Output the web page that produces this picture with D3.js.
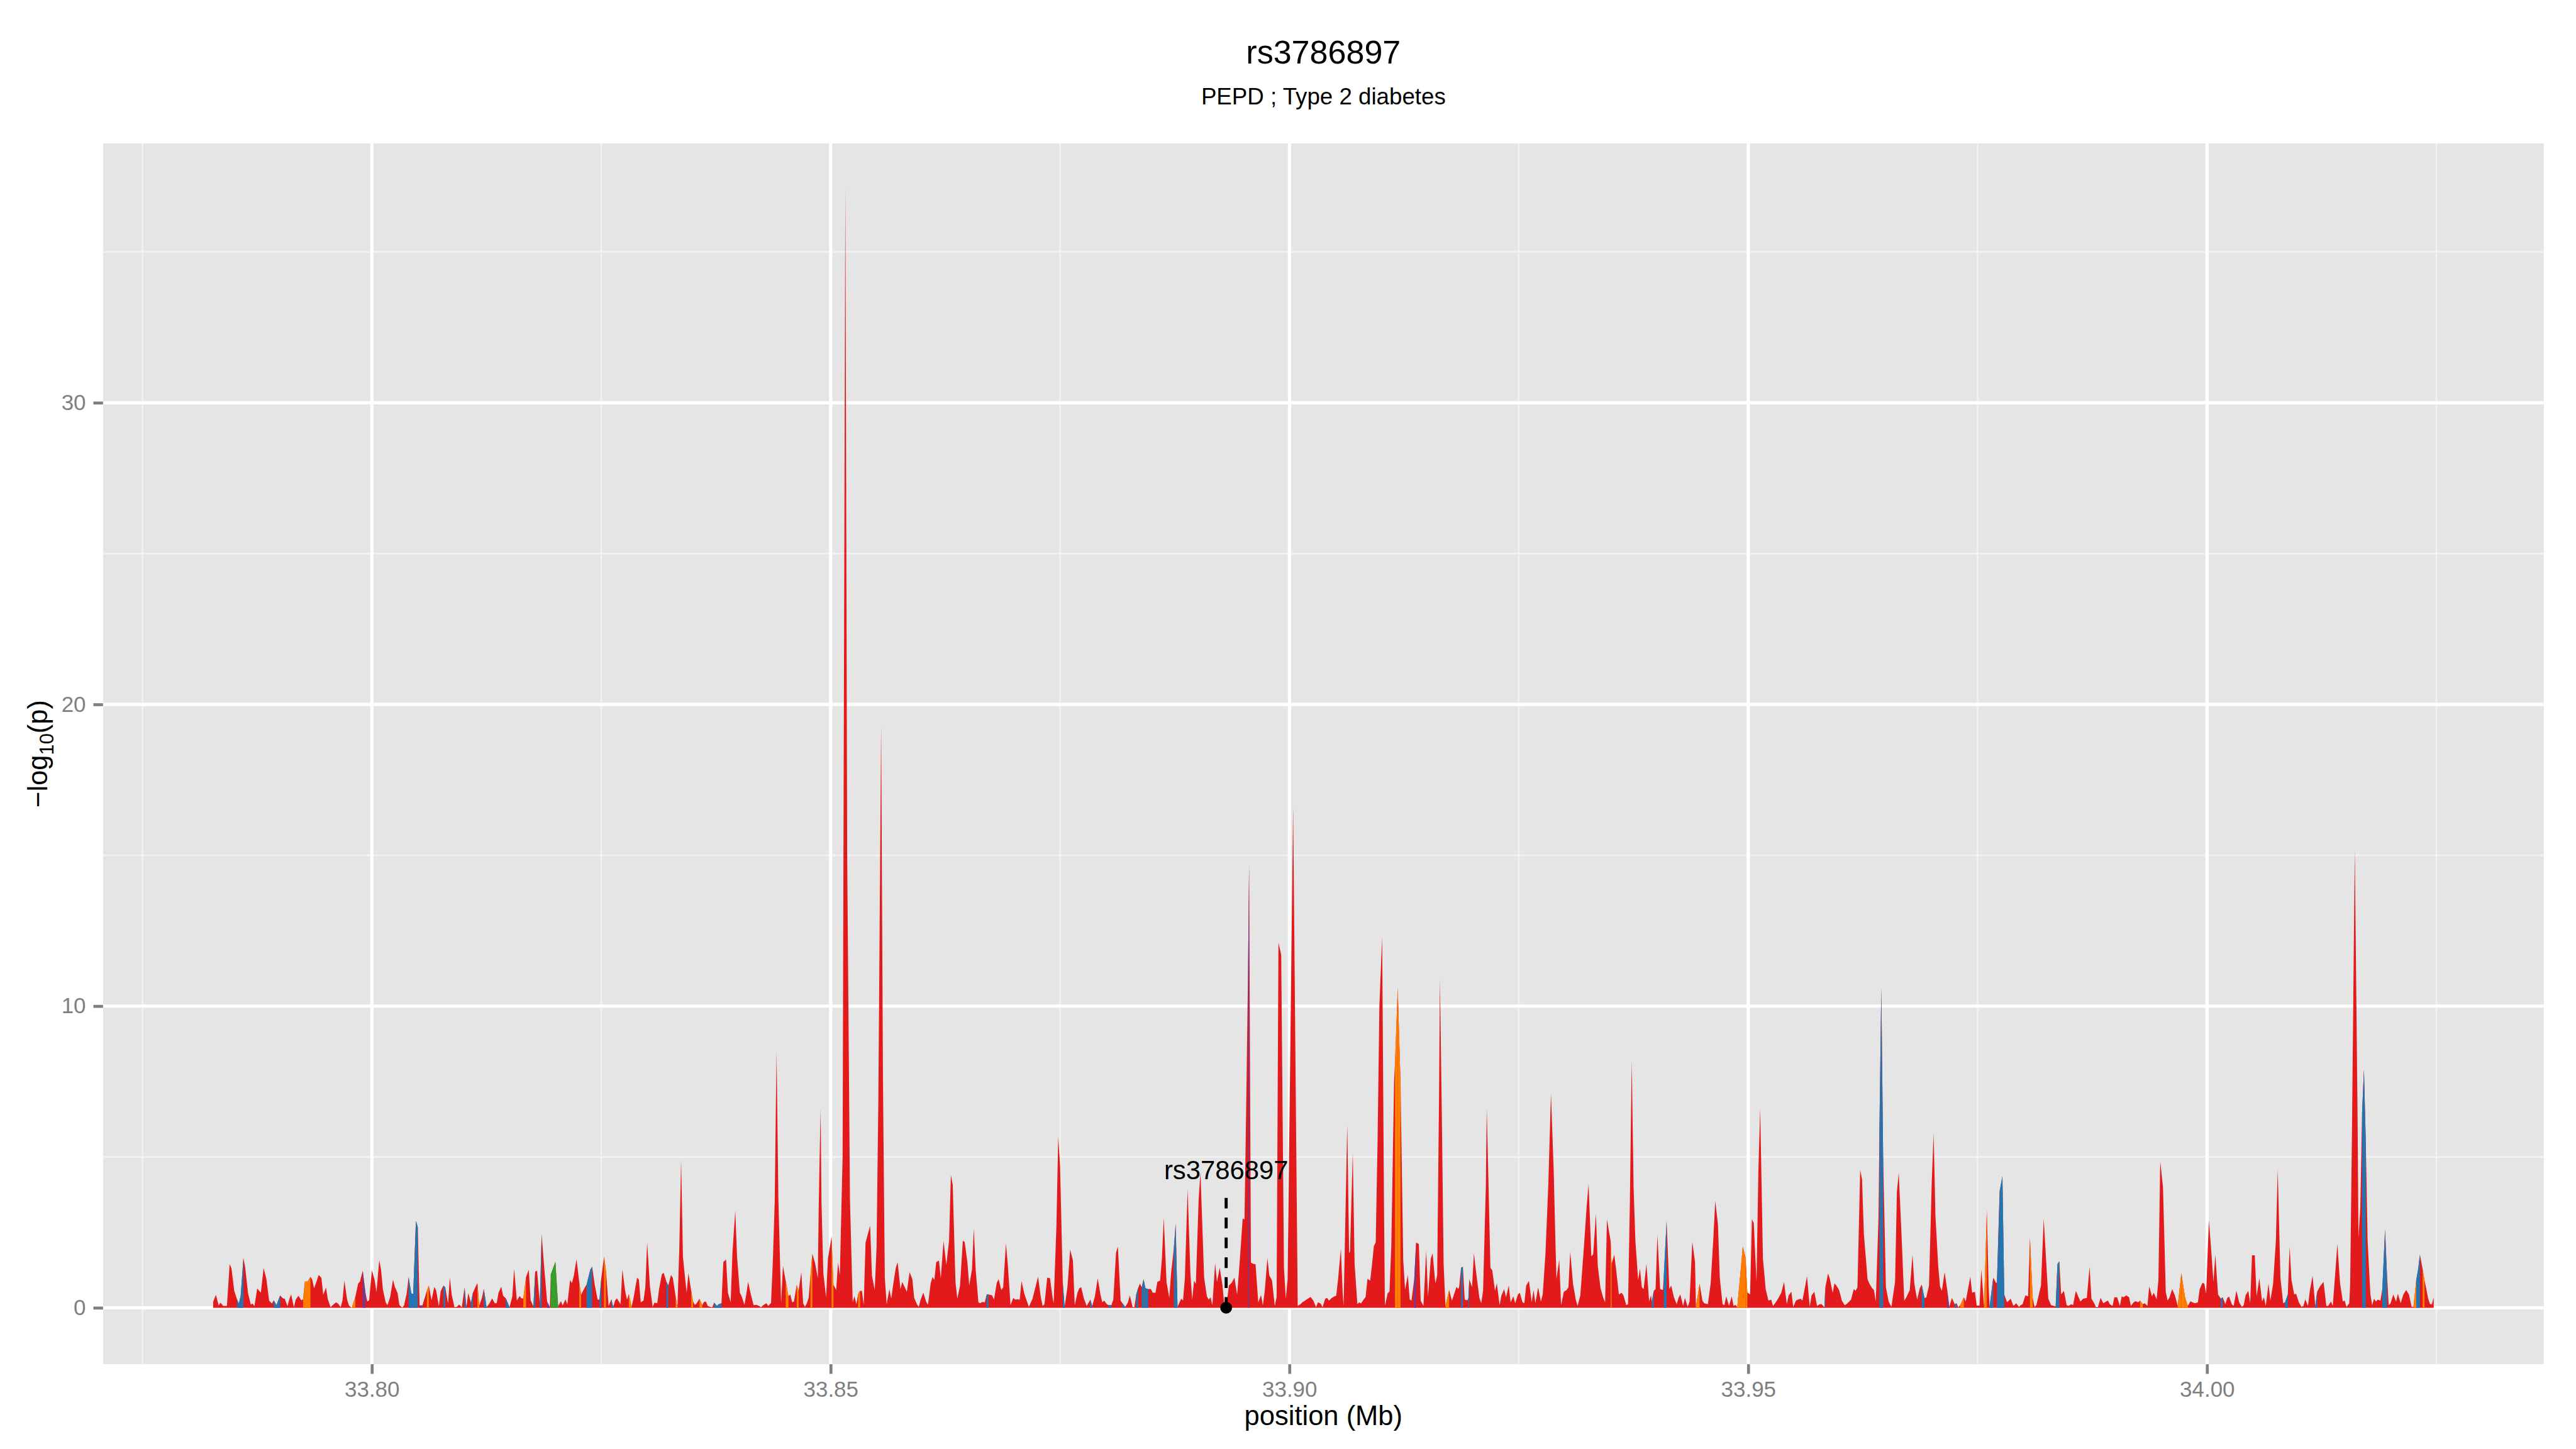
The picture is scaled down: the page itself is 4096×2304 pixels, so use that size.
<!DOCTYPE html>
<html>
<head>
<meta charset="utf-8">
<script src="https://cdn.jsdelivr.net/npm/d3@7"></script>
<style>
  body { margin: 0; background: #fff; }
  svg { display: block; }
</style>
</head>
<body>
<svg id="locus-plot" width="4096" height="2304" viewBox="0 0 4800 2700"></svg>
<script>
const plotTitle = "rs3786897";
const plotSubtitle = "PEPD ; Type 2 diabetes";
const xLabel = "position (Mb)";
const xTicks = [33.80, 33.85, 33.90, 33.95, 34.00];
const xMinor = [33.775, 33.825, 33.875, 33.925, 33.975, 34.025];
const yTicks = [0, 10, 20, 30];
const yMinor = [5, 15, 25, 35];

// lead SNP annotation
const leadSnp = "rs3786897";
const leadPos = 33.8931;
const leadStemTop = 3.64;
const leadLabelY = 4.26;

// SNP positions (Mb) and -log10(p), read left to right
const posA = [
  33.7827,33.7830,33.7833,33.7835,33.7838,33.7842,33.7845,33.7847,33.7850,33.7853,
  33.7855,33.7857,33.7860,33.7862,33.7865,33.7868,33.7870,33.7872,33.7875,33.7879,
  33.7882,33.7885,33.7888,33.7891,33.7893,33.7896,33.7900,33.7903,33.7905,33.7908,
  33.7910,33.7912,33.7915,33.7917,33.7920,33.7923,33.7925,33.7927,33.7930,33.7933,
  33.7935,33.7937,33.7940,33.7942,33.7945,33.7947,33.7950,33.7952,33.7955,33.7958,
  33.7961,33.7963,33.7966,33.7968,33.7970,33.7973,33.7975,33.7978,33.7982,33.7985,
  33.7987,33.7990,33.7993,33.7995,33.7997,33.8000,33.8003,33.8005,33.8008,33.8010,
  33.8012,33.8015,33.8017,33.8020,33.8023,33.8025,33.8028,33.8030,33.8033,33.8035,
  33.8038,33.8040,33.8043,33.8045,33.8048,33.8050,33.8052,33.8055,33.8058,33.8060,
  33.8062,33.8065,33.8068,33.8070,33.8073,33.8075,33.8078,33.8080,33.8083,33.8085,
  33.8087,33.8090,33.8093,33.8095,33.8098,33.8101,33.8103,33.8105,33.8108,33.8110,
  33.8113,33.8115,33.8117,33.8120,33.8122,33.8125,33.8128,33.8131,33.8134,33.8136,
  33.8138,33.8141,33.8143,33.8146,33.8150,33.8153,33.8155,33.8158,33.8161,33.8163,
  33.8165,33.8168,33.8171,33.8173,33.8176,33.8178,33.8180,33.8183,33.8185,33.8188,
  33.8191,33.8194,33.8195,33.8200,33.8203,33.8206,33.8208,33.8211,33.8213,33.8216,
  33.8218,33.8220,33.8223,33.8226,33.8228,33.8232,33.8234,33.8238
];
const logpA = [
  0.20,0.43,0.08,0.17,0.06,0.06,1.45,1.30,0.56,0.28,
  0.14,0.40,1.65,1.32,0.49,0.11,0.14,0.05,0.64,0.50,
  1.32,0.96,0.24,0.14,0.25,0.09,0.41,0.31,0.30,0.05,
  0.28,0.44,0.02,0.27,0.40,0.25,0.28,0.87,0.87,1.03,
  0.93,0.64,0.90,1.09,0.99,0.43,0.67,0.28,0.02,0.11,
  0.18,0.14,0.02,0.25,0.90,0.27,0.08,0.00,0.37,0.80,
  0.87,1.23,0.49,0.21,0.25,1.25,0.92,0.52,1.58,1.26,
  0.61,0.18,0.09,0.37,0.93,0.70,0.49,0.09,0.01,0.07,
  0.49,1.02,0.48,0.46,2.88,2.68,0.08,0.08,0.37,0.58,
  0.74,0.25,0.69,0.58,0.05,0.55,0.74,0.67,0.14,1.00,
  0.43,0.02,0.04,0.11,0.02,0.67,0.02,0.49,0.17,0.49,
  0.70,0.82,0.08,0.34,0.63,0.02,0.14,0.31,0.15,0.15,
  0.50,0.70,0.40,0.31,0.02,0.37,1.29,0.24,0.39,0.31,
  0.31,1.02,1.26,0.25,0.05,1.20,1.23,0.14,2.45,1.26,
  0.20,0.02,1.11,1.52,0.05,0.22,0.08,0.28,0.11,0.92,
  0.82,1.05,1.61,0.85,0.43,0.67,0.77,1.26
];

const posB = [
  33.8240,33.8243,33.8246,33.8248,33.8250,33.8253,33.8255,33.8258,33.8261,33.8263,
  33.8265,33.8267,33.8271,33.8273,33.8276,33.8278,33.8280,33.8283,33.8285,33.8289,
  33.8291,33.8293,33.8296,33.8298,33.8300,33.8303,33.8306,33.8308,33.8311,33.8313,
  33.8316,33.8318,33.8321,33.8323,33.8326,33.8328,33.8331,33.8333,33.8335,33.8337,
  33.8339,33.8343,33.8345,33.8348,33.8350,33.8352,33.8354,33.8357,33.8360,33.8362,
  33.8364,33.8366,33.8369,33.8371,33.8373,33.8376,33.8378,33.8381,33.8383,33.8386,
  33.8388,33.8391,33.8393,33.8396,33.8398,33.8401,33.8403,33.8406,33.8408,33.8410,
  33.8413,33.8416,33.8419,33.8422,33.8424,33.8427,33.8430,33.8432,33.8435,33.8437,
  33.8439,33.8441,33.8443,33.8446,33.8448,33.8451,33.8454,33.8456,33.8458,33.8460,
  33.8463,33.8465,33.8468,33.8470,33.8472,33.8474,33.8476,33.8478,33.8480,33.8483,
  33.8486,33.8487,33.8489,33.8490,33.8492,33.8495,33.8497,33.8501,33.8503,33.8506,
  33.8508,33.8510,33.8513,33.8516,33.8518,33.8521,33.8524,33.8526,33.8528,33.8530,
  33.8532,33.8534,33.8536,33.8538,33.8543,33.8545,33.8548,33.8550,33.8552,33.8555,
  33.8557,33.8559,33.8561,33.8564,33.8566,33.8568,33.8571,33.8573,33.8576,33.8578,
  33.8583,33.8586,33.8589,33.8591,33.8594,33.8596,33.8598,33.8601,33.8604,33.8606,
  33.8609,33.8611,33.8613,33.8615,33.8618,33.8620,33.8623,33.8626,33.8629,33.8631,
  33.8633,33.8636,33.8638,33.8641,33.8644,33.8646
];
const logpB = [
  1.36,0.74,0.27,0.27,0.98,1.70,1.27,0.06,0.28,0.03,
  0.24,0.31,0.12,1.27,0.56,0.27,0.46,0.03,0.30,1.00,
  0.93,0.18,0.24,0.68,2.17,0.71,0.03,0.17,0.15,0.62,
  1.11,1.16,0.86,0.74,1.09,0.99,0.38,0.02,1.92,4.90,
  1.68,0.50,1.15,0.56,0.21,0.10,0.15,0.30,0.09,0.20,
  0.21,0.06,0.03,0.02,0.17,0.06,0.12,0.15,1.52,1.60,
  0.50,0.18,1.86,3.21,1.68,0.50,0.38,0.10,0.44,0.86,
  0.44,0.09,0.10,0.06,0.02,0.10,0.15,0.06,0.16,1.57,
  3.50,8.50,3.60,0.15,1.39,0.89,0.38,0.44,0.18,0.21,
  0.76,0.56,1.18,0.15,0.03,0.15,0.33,1.09,1.79,1.48,
  0.98,3.40,6.60,3.50,1.15,0.35,1.63,2.36,0.77,0.59,
  1.50,1.09,5.00,37.2,15.0,3.60,0.18,0.38,0.12,0.47,
  0.56,0.56,0.10,2.16,2.72,1.06,0.59,2.00,7.00,19.3,
  7.50,1.00,0.12,0.62,0.30,0.74,1.33,1.51,0.62,0.86,
  0.53,1.18,0.95,0.33,0.12,0.03,0.27,0.50,0.21,0.10,
  0.81,1.02,0.92,1.51,1.57,0.98,2.22,1.42,2.22,4.40,
  4.08,0.86,0.30,0.74,2.22,2.19
];

const posC = [
  33.8649,33.8651,33.8654,33.8656,33.8658,33.8661,33.8663,33.8665,33.8668,33.8670,
  33.8672,33.8676,33.8678,33.8681,33.8683,33.8686,33.8688,33.8691,33.8693,33.8696,
  33.8699,33.8701,33.8703,33.8706,33.8708,33.8711,33.8716,33.8720,33.8726,33.8729,
  33.8731,33.8733,33.8736,33.8739,33.8742,33.8743,33.8746,33.8748,33.8750,33.8753,
  33.8755,33.8758,33.8761,33.8764,33.8766,33.8769,33.8771,33.8773,33.8776,33.8779,
  33.8783,33.8785,33.8788,33.8791,33.8794,33.8796,33.8798,33.8801,33.8803,33.8806,
  33.8808,33.8811,33.8813,33.8816,33.8818,33.8821,33.8824,33.8826,33.8829,33.8831,
  33.8833,33.8835,33.8837,33.8839,33.8841,33.8843,33.8846,33.8849,33.8851,33.8854,
  33.8856,33.8859,33.8861,33.8863,33.8866,33.8869,33.8871,33.8874,33.8876,33.8878,
  33.8882,33.8884,33.8886,33.8889,33.8892,33.8894,33.8896,33.8898,33.8901,33.8903,
  33.8907,33.8910,33.8912,33.8914,33.8916,33.8919,33.8921,33.8924,33.8927,33.8929,
  33.8931,33.8934,33.8937,33.8940,33.8943,33.8946,33.8949,33.8951,33.8953,33.8955,
  33.8956
];
const logpC = [
  1.51,0.74,1.27,2.63,1.27,0.18,0.15,0.19,0.18,0.44,
  0.44,0.41,0.27,0.83,0.95,0.59,0.68,2.13,1.45,0.09,
  0.33,0.27,0.28,0.27,0.89,0.47,0.03,0.30,1.03,0.35,
  0.06,0.12,1.00,0.98,0.30,0.15,2.69,5.67,4.70,0.80,
  0.03,0.68,1.93,1.57,0.09,0.50,0.65,0.68,0.30,0.06,
  0.27,0.06,0.38,0.98,0.44,0.18,0.24,0.12,0.09,0.09,
  0.27,1.83,2.03,0.24,0.15,0.03,0.18,0.41,0.03,0.02,
  0.44,0.65,0.80,0.68,0.95,0.65,0.62,0.62,0.50,0.50,
  0.86,0.90,1.63,2.98,0.86,0.33,1.15,1.98,2.78,0.03,
  0.30,0.24,0.98,3.94,1.15,0.27,0.89,0.80,3.58,4.49,
  1.00,0.38,0.27,0.35,0.09,1.48,0.86,1.33,0.74,0.09,
  0.00,0.74,0.83,1.00,0.44,1.63,2.96,2.93,7.00,11.5,
  14.7
];

const posD = [
  33.8958,33.8961,33.8963,33.8966,33.8969,33.8971,33.8973,33.8976,33.8978,33.8981,
  33.8984,33.8986,33.8988,33.8991,33.8994,33.8996,33.8998,33.9004,33.9009,33.9012,
  33.9014,33.9017,33.9020,33.9023,33.9026,33.9029,33.9031,33.9034,33.9036,33.9039,
  33.9041,33.9043,33.9046,33.9049,33.9051,33.9053,33.9056,33.9058,33.9059,33.9063,
  33.9065,33.9066,33.9069,33.9071,33.9074,33.9076,33.9078,33.9080,33.9083,33.9085,
  33.9088,33.9090,33.9092,33.9094,33.9096,33.9098,33.9101,33.9103,33.9104,33.9107,
  33.9109,33.9111,33.9114,33.9115,33.9118,33.9121,33.9124,33.9126,33.9129,33.9131,
  33.9133,33.9136,33.9138,33.9141,33.9143
];
const logpD = [
  1.50,1.45,1.45,0.18,0.42,0.09,0.54,1.65,1.08,0.90,
  0.06,0.36,12.1,11.7,1.33,0.30,0.96,16.6,0.06,0.12,
  0.18,0.24,0.30,0.36,0.24,0.02,0.18,0.14,0.02,0.30,
  0.33,0.24,0.32,0.38,0.40,0.96,1.96,0.48,0.06,6.07,
  1.81,1.87,5.14,1.45,0.12,0.18,0.14,0.24,0.36,0.96,
  0.90,1.45,2.05,2.17,5.50,10.0,12.3,3.50,0.06,0.48,
  0.54,2.05,7.50,8.10,10.6,7.50,1.57,0.60,1.09,0.28,
  0.24,0.96,2.17,2.11,0.24
];

const posE = [
  33.9146,33.9149,33.9151,33.9154,33.9156,33.9159,33.9161,33.9163,33.9164,33.9166,
  33.9168,33.9170,33.9174,33.9177,33.9179,33.9182,33.9184,33.9185,33.9187,33.9189,
  33.9191,33.9194,33.9195,33.9196,33.9199,33.9201,33.9204,33.9207,33.9209,33.9211,
  33.9214,33.9215,33.9217,33.9219,33.9221,33.9224,33.9226,33.9229,33.9231,33.9234,
  33.9236,33.9239,33.9241,33.9244,33.9246,33.9249,33.9251,33.9254,33.9256,33.9258,
  33.9261,33.9264,33.9266,33.9268,33.9271,33.9274,33.9276,33.9279,33.9282,33.9285,
  33.9288,33.9290,33.9291,33.9294,33.9296,33.9299,33.9302,33.9304,33.9306,33.9309,
  33.9312,33.9314,33.9317,33.9321,33.9324,33.9326,33.9329,33.9331,33.9334,33.9336,
  33.9339,33.9342,33.9344,33.9346,33.9350,33.9351,33.9354,33.9356,33.9359,33.9362,
  33.9364,33.9367,33.9369,33.9371,33.9373,33.9375,33.9377,33.9380,33.9382,33.9384,
  33.9386,33.9389,33.9392,33.9394,33.9395,33.9397,33.9399,33.9401,33.9404,33.9407,
  33.9408,33.9411,33.9414,33.9416,33.9419,33.9422,33.9424,33.9426,33.9429,33.9431,
  33.9434,33.9436,33.9439,33.9442,33.9443,33.9447,33.9450,33.9452,33.9456,33.9459,
  33.9462,33.9464,33.9467
];
const logpE = [
  0.06,1.89,0.38,1.63,1.81,0.80,1.09,7.00,10.9,6.50,
  1.45,0.06,0.59,0.24,0.41,0.69,0.62,0.71,1.33,1.36,
  0.27,0.25,0.33,0.95,0.68,1.81,1.03,0.33,0.15,0.56,
  4.00,6.60,4.00,1.33,1.24,0.56,0.81,0.09,0.41,0.62,
  0.35,0.74,0.18,0.38,0.15,0.44,0.50,0.18,0.15,0.74,
  0.89,0.18,0.59,0.15,0.68,0.21,0.44,1.80,4.00,7.10,
  4.50,2.00,0.95,1.60,0.09,0.53,0.59,0.68,1.86,0.80,
  0.27,0.06,0.41,2.07,3.40,4.10,1.71,1.77,3.12,1.39,
  0.65,0.33,0.18,2.93,2.22,1.45,1.76,1.27,0.44,0.50,
  0.41,0.09,0.12,3.50,8.20,4.00,2.22,0.92,1.30,0.68,
  0.62,1.45,0.21,0.41,0.21,0.56,0.62,2.42,0.62,0.59,
  1.09,2.87,0.62,0.74,0.35,0.12,0.33,0.44,0.06,0.33,
  0.03,0.21,2.19,1.51,0.03,0.80,0.24,0.15,0.12,0.80,
  2.33,3.55,2.75
];

const posF = [
  33.9469,33.9472,33.9474,33.9476,33.9479,33.9482,33.9484,33.9486,33.9488,33.9492,
  33.9494,33.9497,33.9499,33.9502,33.9504,33.9506,33.9509,33.9511,33.9513,33.9516,
  33.9519,33.9522,33.9525,33.9527,33.9530,33.9533,33.9536,33.9539,33.9542,33.9544,
  33.9547,33.9549,33.9552,33.9554,33.9557,33.9559,33.9562,33.9564,33.9567,33.9569,
  33.9572,33.9575,33.9578,33.9580,33.9583,33.9584,33.9587,33.9589,33.9592,33.9594,
  33.9596,33.9599,33.9602,33.9605,33.9607,33.9610,33.9612,33.9615,33.9617,33.9619,
  33.9622,33.9624,33.9626,33.9630,33.9632,33.9635,33.9637,33.9639,33.9642,33.9643,
  33.9645,33.9647,33.9650,33.9653,33.9656,33.9660,33.9662,33.9664,33.9667,33.9670,
  33.9672,33.9676,33.9679,33.9681,33.9684,33.9687,33.9689,33.9692,33.9694,33.9697,
  33.9700,33.9702,33.9704,33.9707,33.9709,33.9711,33.9714,33.9717,33.9719,33.9722,
  33.9725,33.9727,33.9729,33.9731,33.9735,33.9737,33.9740,33.9742,33.9744,33.9747,
  33.9749,33.9752,33.9754,33.9757,33.9760,33.9762,33.9763,33.9767,33.9770,33.9771,
  33.9774,33.9777,33.9779,33.9782,33.9784,33.9786,33.9789,33.9792,33.9795,33.9797,
  33.9799,33.9802,33.9805,33.9807,33.9810,33.9812,33.9814,33.9819,33.9822,33.9827,
  33.9830,33.9833,33.9835,33.9837,33.9839,33.9841,33.9844,33.9847,33.9849,33.9852,
  33.9854,33.9857,33.9860,33.9862,33.9865,33.9869,33.9872,33.9874,33.9877
];
const logpF = [
  0.98,0.12,0.09,0.38,0.06,0.38,0.06,0.10,0.02,1.33,
  2.03,1.68,0.51,0.44,2.94,2.81,0.86,4.50,6.60,1.63,
  0.62,0.24,0.27,0.06,0.18,0.33,0.50,0.86,0.12,0.41,
  0.53,0.03,0.24,0.27,0.30,0.24,0.71,1.05,0.03,0.41,
  0.53,0.06,0.12,0.12,0.02,0.68,1.14,0.95,0.50,0.81,
  0.74,0.59,0.24,0.09,0.12,0.21,0.27,0.62,0.56,0.68,
  4.56,4.26,2.45,0.95,0.80,0.65,0.59,0.21,3.04,6.00,
  10.6,5.00,0.68,0.21,0.03,0.86,3.84,4.47,2.45,0.24,
  0.33,0.59,1.76,0.80,0.27,0.65,0.77,0.33,0.34,0.74,
  4.20,5.79,3.04,1.39,0.71,0.56,1.18,0.56,0.03,0.33,
  0.12,0.15,0.02,0.09,0.35,0.21,0.71,1.03,0.50,0.53,
  0.07,0.07,1.27,0.06,3.22,0.68,0.03,1.00,0.83,0.83,
  3.87,4.36,0.44,0.18,0.24,0.30,0.06,0.15,0.03,0.09,
  0.12,0.41,0.38,2.32,0.33,0.03,0.09,0.74,2.96,0.30,
  0.09,0.06,0.04,1.45,1.54,0.44,0.56,0.09,0.06,0.12,
  0.09,0.56,0.35,0.21,0.30,0.33,1.36,0.30,0.15
];

const posG = [
  33.9879,33.9881,33.9884,33.9887,33.9890,33.9892,33.9894,33.9897,33.9899,33.9902,
  33.9905,33.9907,33.9909,33.9912,33.9915,33.9917,33.9920,33.9922,33.9925,33.9927,
  33.9930,33.9932,33.9935,33.9937,33.9940,33.9942,33.9945,33.9947,33.9949,33.9952,
  33.9955,33.9957,33.9959,33.9962,33.9965,33.9968,33.9972,33.9976,33.9979,33.9982,
  33.9984,33.9987,33.9990,33.9992,33.9995,33.9997,33.9999,34.0002,34.0004,34.0007,
  34.0009,34.0012,34.0015,34.0017,34.0020,34.0022,34.0024,34.0027,34.0029,34.0032,
  34.0035,34.0038,34.0040,34.0042,34.0045,34.0047,34.0049,34.0052,34.0054,34.0057,
  34.0060,34.0062,34.0064,34.0067,34.0069,34.0072,34.0075,34.0077,34.0080,34.0083,
  34.0085,34.0088,34.0090,34.0092,34.0095,34.0097,34.0100,34.0103,34.0105,34.0107,
  34.0110,34.0112,34.0115,34.0118,34.0120,34.0123,34.0127,34.0130,34.0132,34.0135,
  34.0137,34.0140,34.0142,34.0145,34.0148,34.0150,34.0152,34.0155,34.0156,34.0158,
  34.0161,34.0164,34.0165,34.0167,34.0169,34.0171,34.0173,34.0175,34.0178,34.0180,
  34.0182,34.0184,34.0186,34.0189,34.0191,34.0194,34.0196,34.0198,34.0200,34.0203,
  34.0206,34.0208,34.0211,34.0214,34.0217,34.0220,34.0223,34.0225,34.0228,34.0230,
  34.0232,34.0235,34.0237,34.0241,34.0243,34.0245,34.0247
];
const logpG = [
  0.02,0.02,0.33,0.15,0.21,0.24,0.12,0.06,0.35,0.35,
  0.06,0.38,0.35,0.41,0.35,0.06,0.18,0.22,0.18,0.24,
  0.12,0.15,0.06,0.71,0.38,0.50,0.28,0.92,4.85,3.99,
  0.53,0.24,0.34,0.62,0.41,0.06,1.15,0.35,0.06,0.22,
  0.18,0.15,0.18,0.62,0.83,0.80,0.47,2.90,2.13,0.86,
  1.76,0.44,0.30,0.35,0.12,0.33,0.37,0.12,0.06,0.57,
  0.18,0.03,0.09,0.41,0.56,0.15,1.74,1.74,0.38,0.98,
  0.21,0.35,0.06,0.80,0.24,0.80,2.22,4.58,0.98,0.15,
  0.18,0.44,2.03,0.92,0.44,0.47,0.18,0.03,0.06,0.28,
  0.06,0.56,1.06,0.06,0.53,0.71,0.86,0.06,0.06,0.21,
  0.06,1.27,2.11,0.80,0.21,0.24,0.03,0.15,0.80,6.00,
  15.2,6.50,2.33,3.30,6.50,7.90,5.50,2.20,0.44,0.09,
  0.30,0.21,0.27,0.24,0.62,2.60,1.15,0.09,0.15,0.44,
  0.21,0.47,0.15,0.44,0.59,0.44,0.03,0.04,0.92,1.27,
  1.76,1.27,0.92,0.30,0.12,0.12,0.35
];

// LD bins: the stretch starting at each listed SNP takes that colour (all others red)
const ldBlue = [
  33.7853,33.7855,33.7857,33.7893,33.7896,33.8040,33.8043,33.8045,33.8048,33.8078,
  33.8101,33.8108,33.8122,33.8146,33.8176,33.8183,33.8234,33.8238,33.8248,33.8261,
  33.8321,33.8373,33.8376,33.8378,33.8670,33.8753,33.8783,33.8803,33.8818,33.8833,
  33.8839,33.8841,33.8843,33.8874,33.8876,33.9187,33.9195,33.9395,33.9408,33.9583,
  33.9643,33.9645,33.9689,33.9725,33.9763,33.9771,33.9774,33.9777,33.9835,33.9837,
  33.9879,34.0015,34.0085,34.0118,34.0169,34.0171,34.0191,34.0194,34.0228,34.0230
];
const ldOrange = [
  33.7925,33.7927,33.7930,33.7978,33.8060,33.8115,33.8165,33.8226,33.8253,33.8280,
  33.8331,33.8348,33.8357,33.8451,33.8463,33.8478,33.8501,33.8530,33.9115,33.9118,
  33.9170,33.9350,33.9443,33.9488,33.9492,33.9494,33.9497,33.9731,33.9757,33.9807,
  33.9927,33.9968,33.9972,33.9976,34.0225,34.0235
];
const ldGreen = [33.8195, 33.8200];
const ldPurple = [33.7990, 33.8052, 33.8191, 33.8955, 33.9136, 33.9717];

const ldColours = { red: "#E31A1C", blue: "#1F78B4", orange: "#FF7F00", green: "#33A02C", purple: "#6A3D9A" };

const FONT = "'Liberation Sans', Arial, Helvetica, sans-serif";
const W = 4800, H = 2700;
const panel = { left: 192, right: 4740, top: 267, bottom: 2542 };

const snpPos = [].concat(posA, posB, posC, posD, posE, posF, posG);
const snpLogP = [].concat(logpA, logpB, logpC, logpD, logpE, logpF, logpG);

const ldOf = new Map();
ldBlue.forEach(p => ldOf.set(p.toFixed(4), "blue"));
ldOrange.forEach(p => ldOf.set(p.toFixed(4), "orange"));
ldGreen.forEach(p => ldOf.set(p.toFixed(4), "green"));
ldPurple.forEach(p => ldOf.set(p.toFixed(4), "purple"));

const n = Math.min(snpPos.length, snpLogP.length);
const snps = d3.range(n).map(i => ({
  pos: snpPos[i], logp: snpLogP[i], ld: ldOf.get(snpPos[i].toFixed(4)) || "red"
}));

const svg = d3.select("#locus-plot");
const x = d3.scaleLinear().domain([33.7707, 34.0367]).range([panel.left, panel.right]);
const y = d3.scaleLinear().domain([-1.87, 38.6]).range([panel.bottom, panel.top]);

svg.append("rect").attr("width", W).attr("height", H).attr("fill", "#fff");
svg.append("rect")
  .attr("x", panel.left).attr("y", panel.top)
  .attr("width", panel.right - panel.left).attr("height", panel.bottom - panel.top)
  .attr("fill", "#E5E5E5");

svg.append("clipPath").attr("id", "panel-clip")
  .append("rect")
  .attr("x", panel.left).attr("y", panel.top)
  .attr("width", panel.right - panel.left).attr("height", panel.bottom - panel.top);

// grid
const grid = svg.append("g");
grid.selectAll("line.xminor").data(xMinor).join("line")
  .attr("x1", d => x(d)).attr("x2", d => x(d))
  .attr("y1", panel.top).attr("y2", panel.bottom)
  .attr("stroke", "#F2F2F2").attr("stroke-width", 3);
grid.selectAll("line.yminor").data(yMinor).join("line")
  .attr("x1", panel.left).attr("x2", panel.right)
  .attr("y1", d => y(d)).attr("y2", d => y(d))
  .attr("stroke", "#F2F2F2").attr("stroke-width", 3);
grid.selectAll("line.xmajor").data(xTicks).join("line")
  .attr("x1", d => x(d)).attr("x2", d => x(d))
  .attr("y1", panel.top).attr("y2", panel.bottom)
  .attr("stroke", "#fff").attr("stroke-width", 6);
grid.selectAll("line.ymajor").data(yTicks).join("line")
  .attr("x1", panel.left).attr("x2", panel.right)
  .attr("y1", d => y(d)).attr("y2", d => y(d))
  .attr("stroke", "#fff").attr("stroke-width", 6);

// association signal as a filled area, with LD-coloured stretches on top
const area = d3.area()
  .x(d => x(d.pos))
  .y0(y(0))
  .y1(d => y(d.logp));

const plot = svg.append("g").attr("clip-path", "url(#panel-clip)");
plot.append("path")
  .datum(snps)
  .attr("fill", ldColours.red)
  .attr("d", area);

const pieces = [];
for (let i = 0; i < snps.length - 1; i++) {
  if (snps[i].ld !== "red") pieces.push({ ld: snps[i].ld, pts: [snps[i], snps[i + 1]] });
}
plot.selectAll("path.ld").data(pieces).join("path")
  .attr("class", "ld")
  .attr("fill", d => ldColours[d.ld])
  .attr("d", d => area(d.pts));

// lead SNP marker
svg.append("line")
  .attr("x1", x(leadPos)).attr("x2", x(leadPos))
  .attr("y1", y(0)).attr("y2", y(leadStemTop))
  .attr("stroke", "#000").attr("stroke-width", 5.7)
  .attr("stroke-dasharray", "20 17");
svg.append("circle")
  .attr("cx", x(leadPos)).attr("cy", y(0)).attr("r", 11)
  .attr("fill", "#000");
svg.append("text")
  .attr("x", x(leadPos)).attr("y", y(leadLabelY))
  .attr("text-anchor", "middle")
  .attr("font-family", FONT).attr("font-size", 49)
  .attr("fill", "#000")
  .text(leadSnp);

// axes
svg.append("g")
  .attr("transform", "translate(0," + panel.bottom + ")")
  .call(d3.axisBottom(x).tickValues(xTicks).tickFormat(d3.format(".2f")).tickSize(18).tickPadding(14))
  .call(g => {
    g.select(".domain").remove();
    g.attr("font-family", FONT).attr("font-size", 41);
    g.selectAll("line").attr("stroke", "#7F7F7F").attr("stroke-width", 5.5);
    g.selectAll("text").attr("fill", "#7F7F7F");
  });

svg.append("g")
  .attr("transform", "translate(" + panel.left + ",0)")
  .call(d3.axisLeft(y).tickValues(yTicks).tickFormat(d3.format("d")).tickSize(18).tickPadding(14))
  .call(g => {
    g.select(".domain").remove();
    g.attr("font-family", FONT).attr("font-size", 41);
    g.selectAll("line").attr("stroke", "#7F7F7F").attr("stroke-width", 5.5);
    g.selectAll("text").attr("fill", "#7F7F7F");
  });

// titles
const midX = (panel.left + panel.right) / 2;
svg.append("text")
  .attr("x", midX).attr("y", 118)
  .attr("text-anchor", "middle")
  .attr("font-family", FONT).attr("font-size", 61)
  .text(plotTitle);
svg.append("text")
  .attr("x", midX).attr("y", 194)
  .attr("text-anchor", "middle")
  .attr("font-family", FONT).attr("font-size", 43)
  .text(plotSubtitle);

svg.append("text")
  .attr("x", midX).attr("y", 2656)
  .attr("text-anchor", "middle")
  .attr("font-family", FONT).attr("font-size", 51)
  .text(xLabel);

const yTitle = svg.append("text")
  .attr("transform", "translate(88," + ((panel.top + panel.bottom) / 2) + ") rotate(-90)")
  .attr("text-anchor", "middle")
  .attr("font-family", FONT).attr("font-size", 51);
yTitle.append("tspan").text("\u2212log");
yTitle.append("tspan").attr("font-size", 36).attr("dy", 12).text("10");
yTitle.append("tspan").attr("dy", -12).text("(p)");
</script>
</body>
</html>
